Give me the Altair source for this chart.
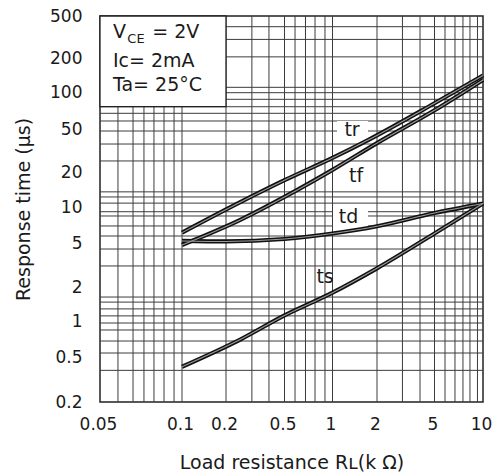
import altair as alt
import pandas as pd

FONT = "DejaVu Sans"

# Axis tick labels
x_ticks = [0.05, 0.1, 0.2, 0.5, 1, 2, 5, 10]
y_ticks = [0.2, 0.5, 1, 2, 5, 10, 20, 50, 100, 200, 500]

# Pixel offsets of the tick values inside the plot area (the printed grid is not a clean log grid)
x_range = [0, 82, 126, 184.5, 232.5, 277, 334.5, 383]
y_range = [386, 341, 305, 271, 227, 191, 156, 113, 76, 42, 0]

# Grid lines of the chart paper
x_grid = [0.0582, 0.0661, 0.0725, 0.0789, 0.0859, 0.0935, 0.1, 0.2, 0.3, 0.392,
          0.5, 0.582, 0.677, 0.777, 0.897, 1, 2, 3, 3.97, 5, 5.81, 6.70, 7.51,
          8.30, 9.24]
y_grid = [0.381, 0.54, 0.68, 0.841, 0.962, 1.11, 1.28, 1.47, 1.63, 3.1, 4.41,
          5.72, 6.94, 8.41, 9.13, 10.8, 12.2, 13.5, 25.3, 36.3, 47.9, 58.1,
          67.1, 75.9, 87.2, 98.7, 110, 205, 300, 396]

# Response-time curves: load resistance (kΩ) vs time (µs)
rl_tr = [0.1, 0.25, 0.5, 1, 1.74, 5, 10]
t_tr = [6.1, 11.0, 17.0, 27, 39.5, 81, 140]
rl_tf = [0.1, 0.25, 0.5, 1, 2, 5, 10]
t_tf = [4.8, 7.8, 12.2, 20.9, 37, 71, 128]
rl_td = [0.1, 0.2, 0.5, 1, 2, 5, 10]
t_td = [5.2, 5.15, 5.4, 6.0, 6.9, 8.9, 10.7]
rl_ts = [0.1, 0.25, 0.5, 1, 2, 5, 10]
t_ts = [0.41, 0.7, 1.12, 1.78, 2.95, 6.0, 10.7]

# Curve name labels
lab_names = ["tr", "tf", "td", "ts"]
lab_x = [1.355, 1.442, 1.283, 0.898]
lab_y = [48.9, 18.5, 8.17, 2.44]

# Conditions box
cond_text = ["V", "= 2V", "Ic= 2mA", "Ta= 25°C"]
cond_x = [0.0558, 0.0778, 0.0558, 0.0558]
cond_y = [307, 307, 167.5, 102.7]
sub_text = ["CE"]
sub_x = [0.0630]
sub_y = [277]

curves = pd.DataFrame(
    [{"curve": "tr", "rl": a, "t": b} for a, b in zip(rl_tr, t_tr)]
    + [{"curve": "tf", "rl": a, "t": b} for a, b in zip(rl_tf, t_tf)]
    + [{"curve": "td", "rl": a, "t": b} for a, b in zip(rl_td, t_td)]
    + [{"curve": "ts", "rl": a, "t": b} for a, b in zip(rl_ts, t_ts)]
)

xs = alt.Scale(type="log", domain=x_ticks, range=x_range, nice=False)
ys = alt.Scale(type="log", domain=y_ticks, range=y_range, nice=False)

x_axis = alt.Axis(
    values=x_ticks, format="~g", grid=False, ticks=False, domain=False,
    labelFlush=False, labelOffset=-2,
    labelFont=FONT, labelFontSize=17, labelColor="#1a1a1a", labelPadding=14,
    title="Load resistance Rʟ(k Ω)", titleFont=FONT, titleFontSize=19,
    titleFontWeight="normal", titleColor="#1a1a1a", titlePadding=21,
)
y_axis = alt.Axis(
    values=y_ticks, format="~g", grid=False, ticks=False, domain=False,
    labelFlush=False,
    labelFont=FONT, labelFontSize=17, labelColor="#1a1a1a", labelPadding=18,
    title="Response time (μs)", titleFont=FONT, titleFontSize=19,
    titleFontWeight="normal", titleColor="#1a1a1a", titlePadding=16,
)

base = alt.Chart(curves)

vgrid = alt.Chart(pd.DataFrame({"v": x_grid})).mark_rule(
    color="#3c3c3c", strokeWidth=1
).encode(x=alt.X("v:Q", scale=xs, axis=x_axis))

hgrid = alt.Chart(pd.DataFrame({"v": y_grid})).mark_rule(
    color="#3c3c3c", strokeWidth=1
).encode(y=alt.Y("v:Q", scale=ys, axis=y_axis))

box = alt.Chart(pd.DataFrame({"x0": [0.05], "x1": [0.2], "y0": [75.9], "y1": [500]})).mark_rect(
    fill="white", stroke="#222", strokeWidth=1.3
).encode(x=alt.X("x0:Q", scale=xs), x2="x1:Q", y=alt.Y("y0:Q", scale=ys), y2="y1:Q")

# White gaps in the grid behind the tr and td labels
gaps = alt.Chart(pd.DataFrame({
    "x0": [1.073, 1.008], "x1": [1.739, 1.739],
    "y0": [40.4, 6.8], "y1": [58.1, 9.81],
})).mark_rect(fill="white").encode(
    x=alt.X("x0:Q", scale=xs), x2="x1:Q", y=alt.Y("y0:Q", scale=ys), y2="y1:Q"
)

outer = base.mark_line(color="#111", strokeWidth=4.2, interpolate="monotone").encode(
    x=alt.X("rl:Q", scale=xs), y=alt.Y("t:Q", scale=ys), detail="curve:N"
)
inner = base.mark_line(color="#9a9a9a", strokeWidth=1.1, interpolate="monotone").encode(
    x=alt.X("rl:Q", scale=xs), y=alt.Y("t:Q", scale=ys), detail="curve:N"
)

labels = alt.Chart(pd.DataFrame({"name": lab_names, "x": lab_x, "y": lab_y})).mark_text(
    font=FONT, fontSize=19, color="#1a1a1a", align="center", baseline="middle"
).encode(x=alt.X("x:Q", scale=xs), y=alt.Y("y:Q", scale=ys), text="name:N")

cond = alt.Chart(pd.DataFrame({"t": cond_text, "x": cond_x, "y": cond_y})).mark_text(
    font=FONT, fontSize=19, color="#1a1a1a", align="left", baseline="alphabetic"
).encode(x=alt.X("x:Q", scale=xs), y=alt.Y("y:Q", scale=ys), text="t:N")

sub = alt.Chart(pd.DataFrame({"t": sub_text, "x": sub_x, "y": sub_y})).mark_text(
    font=FONT, fontSize=13, color="#1a1a1a", align="left", baseline="alphabetic"
).encode(x=alt.X("x:Q", scale=xs), y=alt.Y("y:Q", scale=ys), text="t:N")

chart = alt.layer(vgrid, hgrid, box, gaps, outer, inner, labels, cond, sub).properties(
    width=383, height=386,
    autosize=alt.AutoSizeParams(type="none"),
    padding={"left": 100, "top": 16, "right": 15, "bottom": 74},
    background="white",
).configure_view(stroke="#222", strokeWidth=1.5)

chart.save("out.html", embed_options={"renderer": "svg", "actions": False})
